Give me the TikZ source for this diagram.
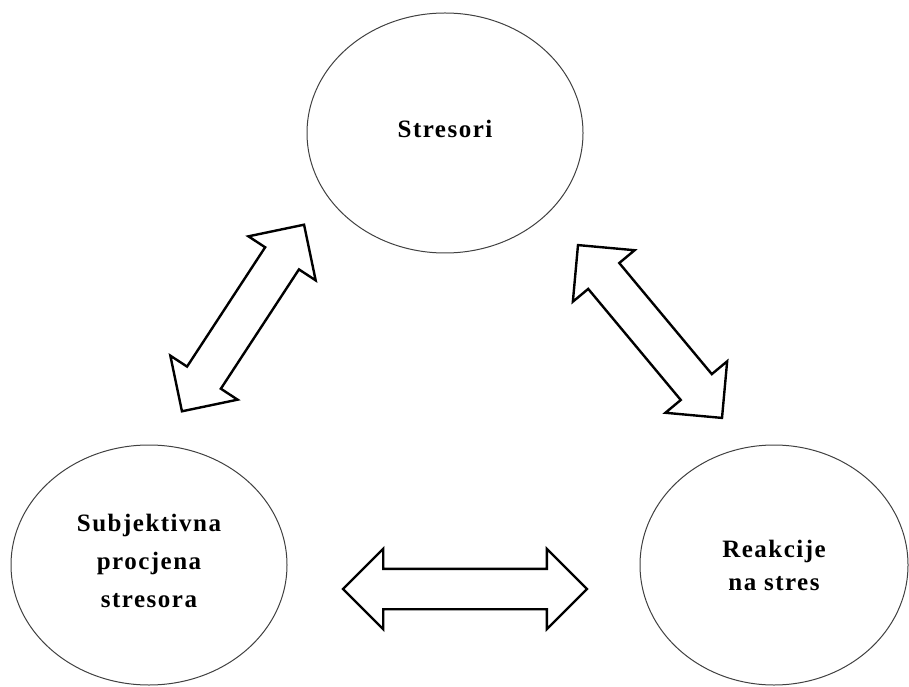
\documentclass[tikz,border=0pt]{standalone}
\usepackage{fontspec}
\setmainfont[LetterSpace=6]{Liberation Serif}
\usetikzlibrary{shapes.geometric,shapes.arrows}

\begin{document}
\begin{tikzpicture}[x=1pt, y=1pt,
    main/.style = {draw=black!75, line width=1pt, ellipse, minimum width=276pt, minimum height=240pt, align=center, font=\fontsize{25}{38}\selectfont\bfseries},
    dbl/.style = {draw, line width=2.4pt, double arrow, double arrow head extend=20pt, inner xsep=0pt, inner ysep=19pt, text height=0pt, text depth=0pt, minimum width=0pt}]
    \useasboundingbox (0,0) rectangle (909,686);

    \node[main] (str) at (445,553) {Stresori\\[-30pt]\mbox{}};
    \node[main] (sub) at (149,121) {Subjektivna\\procjena\\stresora\\[-30pt]\mbox{}};
    \node[main, minimum width=268pt, font=\fontsize{25}{33}\selectfont\bfseries] (rea) at (774,121) {Reakcije\\na stres};

    \node[dbl, minimum height=223pt, rotate=56.8] (sub-str) at (243,368) {};
    \node[dbl, minimum height=225pt, rotate=-50.2] (str-rea) at (650,354.5) {};
    \node[dbl, minimum height=244pt] (sub-rea) at (465,97) {};
\end{tikzpicture}
\end{document}
